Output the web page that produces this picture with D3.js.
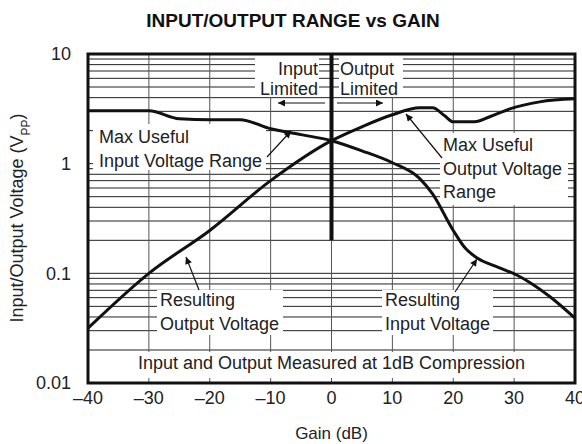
<!DOCTYPE html>
<html><head><meta charset="utf-8">
<script src="https://cdn.jsdelivr.net/npm/d3@7"></script>
<style>
html,body{margin:0;padding:0;background:#fff;}
svg{display:block;font-family:"Liberation Sans",Arial,Helvetica,sans-serif;}
</style></head>
<body>
<svg id="chart" width="582" height="444"></svg>
<script>
// ---- data ----
const gainTicks = [-40, -30, -20, -10, 0, 10, 20, 30, 40];
const voltTicks = [0.01, 0.1, 1, 10];
const voltTickLabels = ["0.01", "0.1", "1", "10"];

// Max useful input voltage range (Vpp) vs gain (dB)
const inputGain = [-40, -30, -25, -20, -15, -10, -5, 0, 5, 10, 14.5, 16.6, 20, 22, 24, 27.5, 30.5, 32.5, 36, 40];
const inputVolt = [3.03, 3.03, 2.57, 2.52, 2.52, 2.08, 1.84, 1.62, 1.31, 1.02, 0.73, 0.53, 0.246, 0.169, 0.137, 0.113, 0.096, 0.083, 0.0605, 0.039];

// Max useful output voltage range (Vpp) vs gain (dB)
const outputGain = [-40, -30, -20, -10, 0, 5, 10, 14.5, 16.6, 18.6, 20, 23.5, 26, 29.3, 34.2, 40];
const outputVolt = [0.0316, 0.1, 0.246, 0.70, 1.62, 2.17, 2.79, 3.23, 3.23, 2.73, 2.41, 2.41, 2.68, 3.16, 3.66, 3.90];

const title = "INPUT/OUTPUT RANGE vs GAIN";
const xTitle = "Gain (dB)";

// ---- layout ----
const svg = d3.select("#chart");
const L = 88, R = 575, T = 54, B = 383;
const x = d3.scaleLinear().domain([-40, 40]).range([L, R]);
const y = d3.scaleLog().domain([0.01, 10]).range([B, T]);
const FS = 18;

// grid
const minor = [];
for (let e = -2; e <= 0; e++) for (let m = 1; m <= 9; m++) minor.push(m * Math.pow(10, e));
minor.push(10);
const grid = svg.append("g");
grid.selectAll("line.h").data(minor).join("line")
  .attr("x1", L).attr("x2", R).attr("y1", d => y(d)).attr("y2", d => y(d))
  .attr("stroke", "#222").attr("stroke-width", 1);
grid.selectAll("line.v").data(gainTicks).join("line")
  .attr("x1", d => x(d)).attr("x2", d => x(d)).attr("y1", T).attr("y2", B)
  .attr("stroke", "#555").attr("stroke-width", 1);

// white boxes behind annotation texts
const boxes = [
  [255, 55, 64, 42],   // Input Limited
  [339, 55, 64, 42],   // Output Limited
  [93, 124, 173, 46],  // Max Useful Input Voltage Range
  [440, 133, 128, 72], // Max Useful Output Voltage Range
  [157, 290, 126, 45], // Resulting Output Voltage
  [382, 290, 111, 45], // Resulting Input Voltage
  [90, 352, 483, 26]   // bottom note
];
svg.append("g").selectAll("rect").data(boxes).join("rect")
  .attr("x", d => d[0]).attr("y", d => d[1]).attr("width", d => d[2]).attr("height", d => d[3])
  .attr("fill", "#fff");

// thick vertical line at 0 dB
svg.append("line").attr("x1", x(0)).attr("x2", x(0)).attr("y1", T).attr("y2", y(0.2))
  .attr("stroke", "#111").attr("stroke-width", 4);

// curves
const line = d3.line().x(d => x(d[0])).y(d => y(d[1])).curve(d3.curveMonotoneX);
svg.append("path").datum(d3.zip(inputGain, inputVolt)).attr("d", line)
  .attr("fill", "none").attr("stroke", "#111").attr("stroke-width", 3);
svg.append("path").datum(d3.zip(outputGain, outputVolt)).attr("d", line)
  .attr("fill", "none").attr("stroke", "#111").attr("stroke-width", 3);

// frame
svg.append("rect").attr("x", L).attr("y", T).attr("width", R - L).attr("height", B - T)
  .attr("fill", "none").attr("stroke", "#111").attr("stroke-width", 3);

// arrows
const defs = svg.append("defs");
defs.append("marker").attr("id", "ah").attr("viewBox", "0 0 10 10").attr("refX", 10).attr("refY", 5)
  .attr("markerWidth", 13).attr("markerHeight", 7).attr("markerUnits", "userSpaceOnUse").attr("orient", "auto")
  .append("path").attr("d", "M0,0 L10,5 L0,10 Z").attr("fill", "#111");
const arrows = [
  [325, 103, 278, 103],
  [337, 103, 383, 103],
  [267, 157, 291, 131],
  [442, 158, 406, 114],
  [199, 290, 186, 257],
  [455, 292, 477, 259]
];
svg.append("g").selectAll("line").data(arrows).join("line")
  .attr("x1", d => d[0]).attr("y1", d => d[1]).attr("x2", d => d[2]).attr("y2", d => d[3])
  .attr("stroke", "#111").attr("stroke-width", 1.2).attr("marker-end", "url(#ah)");

// annotation texts
function label(lines, xx, yy, anchor, lh) {
  const t = svg.append("text").attr("font-size", FS).attr("fill", "#222").attr("text-anchor", anchor || "start");
  lines.forEach((s, i) => t.append("tspan").attr("x", xx).attr("y", yy + i * lh).attr("dy", "0.35em").text(s));
}
label(["Input", "Limited"], 318, 69, "end", 20);
label(["Output", "Limited"], 340, 69, "start", 20);
label(["Max Useful", "Input Voltage Range"], 99, 137, "start", 24);
label(["Max Useful", "Output Voltage", "Range"], 443, 145, "start", 23.5);
label(["Resulting", "Output Voltage"], 160, 300, "start", 23.5);
label(["Resulting", "Input Voltage"], 385, 300, "start", 24);
label(["Input and Output Measured at 1dB Compression"], (L + R) / 2, 363, "middle", 0);

// axes labels
svg.append("g").selectAll("text").data(voltTicks).join("text")
  .attr("x", 71).attr("y", d => y(d)).attr("dy", "0.35em").attr("text-anchor", "end")
  .attr("font-size", FS).attr("fill", "#222").text((d, i) => voltTickLabels[i]);
svg.append("g").selectAll("text").data(gainTicks).join("text")
  .attr("x", d => x(d)).attr("y", 398).attr("dy", "0.35em").attr("text-anchor", "middle")
  .attr("font-size", FS).attr("fill", "#222").text(d => d < 0 ? "\u2013" + Math.abs(d) : String(d));

svg.append("text").attr("x", (L + R) / 2).attr("y", 433).attr("dy", "0.35em").attr("text-anchor", "middle")
  .attr("font-size", 17).attr("fill", "#222").text(xTitle);

const yt = svg.append("text").attr("transform", "translate(17,218) rotate(-90)").attr("text-anchor", "middle")
  .attr("dy", "0.35em").attr("font-size", FS).attr("fill", "#222");
yt.append("tspan").text("Input/Output Voltage (V");
yt.append("tspan").attr("font-size", 12).attr("baseline-shift", "sub").text("PP");
yt.append("tspan").text(")");

svg.append("text").attr("x", 293).attr("y", 20).attr("dy", "0.35em").attr("text-anchor", "middle")
  .attr("font-size", 19).attr("font-weight", "bold").attr("fill", "#111").text(title);
</script>
</body></html>
